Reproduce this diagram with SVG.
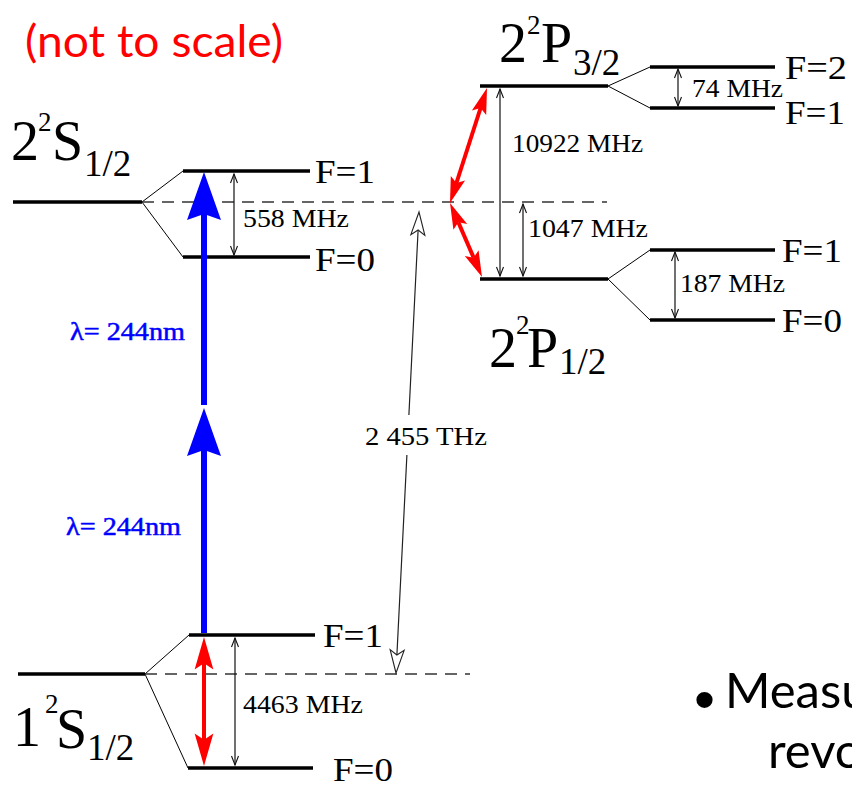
<svg xmlns="http://www.w3.org/2000/svg" width="852" height="785" viewBox="0 0 852 785">
<style>
.lvl{stroke:#000;stroke-width:3.5;fill:none}
.fan{stroke:#000;stroke-width:1;fill:none}
.dash{stroke:#333;stroke-width:1.3;stroke-dasharray:12 8;fill:none}
.thin{stroke:#111;stroke-width:1.2;fill:none;marker-start:url(#vee);marker-end:url(#vee)}
.serif{font-family:"Liberation Serif","Times New Roman",serif;fill:#000}
.F{font-size:34px}
.mhz{font-size:25px}
.big{font-size:56px}
.sup{font-size:27px}
.sub{font-size:37px}
.lam{font-family:"Liberation Serif","Times New Roman",serif;font-size:26px;fill:#0000ff;stroke:#0000ff;stroke-width:0.5}
.sans{font-family:Lato,"Open Sans","Liberation Sans",sans-serif}
.red{stroke:#ff0000;stroke-width:4;fill:none}
.blue{stroke:#0000ff;stroke-width:6;fill:none}
.thz{stroke:#222;stroke-width:1.2;fill:none}
</style>
<defs>
<marker id="vee" markerUnits="userSpaceOnUse" orient="auto-start-reverse" refX="0" refY="0" markerWidth="12" markerHeight="10" viewBox="-11 -5 12 10" overflow="visible">
<path d="M-9,-3.5 L0,0 L-9,3.5" fill="none" stroke="#111" stroke-width="1.1"/>
</marker>
<path id="redHead" d="M0,0 L-26,-7.5 L-21,0 L-26,7.5 Z" fill="#ff0000"/>
<path id="blueHead" d="M0,0 L-48,-17 L-42,0 L-48,17 Z" fill="#0000ff"/>
<path id="openHead" d="M0,0 L-23,-7 L-18,0 L-23,7 Z" fill="#fff" stroke="#222" stroke-width="1.1"/>
</defs>
<rect width="852" height="785" fill="#fff"/>

<text class="sans" x="25" y="57" font-size="45" fill="#ff0000" textLength="258" lengthAdjust="spacingAndGlyphs">(not to scale)</text>

<g id="level-2S">
<line class="lvl" x1="13" y1="202" x2="142" y2="202"/>
<path class="fan" d="M142,202 L183,171 M142,202 L183,257"/>
<line class="lvl" x1="183" y1="171" x2="310" y2="171"/>
<line class="lvl" x1="183" y1="257" x2="310" y2="257"/>
<text class="serif"><tspan class="big" x="11" y="160">2</tspan><tspan class="sup" x="38" y="131">2</tspan><tspan class="big" x="52" y="160">S</tspan><tspan class="sub" x="84" y="176">1/2</tspan></text>
<text class="serif F" x="315" y="183" textLength="60" lengthAdjust="spacingAndGlyphs">F=1</text>
<text class="serif F" x="315" y="271" textLength="60" lengthAdjust="spacingAndGlyphs">F=0</text>
</g>

<g id="level-1S">
<line class="lvl" x1="18" y1="674" x2="145" y2="674"/>
<path class="fan" d="M145,674 L189,635 M145,674 L188,768"/>
<line class="lvl" x1="189" y1="635" x2="315" y2="635"/>
<line class="lvl" x1="188" y1="768" x2="313" y2="768"/>
<text class="serif"><tspan class="big" x="13" y="746">1</tspan><tspan class="sup" x="45" y="713">2</tspan><tspan class="big" x="56" y="748">S</tspan><tspan class="sub" x="87" y="760">1/2</tspan></text>
<text class="serif F" x="323" y="647" textLength="60" lengthAdjust="spacingAndGlyphs">F=1</text>
<text class="serif F" x="333" y="781" textLength="60" lengthAdjust="spacingAndGlyphs">F=0</text>
</g>

<g id="level-2P32">
<line class="lvl" x1="480" y1="86" x2="608" y2="86"/>
<path class="fan" d="M608,86 L650,67 M608,86 L650,108"/>
<line class="lvl" x1="650" y1="67" x2="775" y2="67"/>
<line class="lvl" x1="650" y1="108" x2="775" y2="108"/>
<text class="serif"><tspan class="big" x="499" y="62">2</tspan><tspan class="sup" x="527" y="34">2</tspan><tspan class="big" x="541" y="62">P</tspan><tspan class="sub" x="573" y="75">3/2</tspan></text>
<text class="serif F" x="785" y="79" textLength="62" lengthAdjust="spacingAndGlyphs">F=2</text>
<text class="serif F" x="785" y="124" textLength="60" lengthAdjust="spacingAndGlyphs">F=1</text>
</g>

<g id="level-2P12">
<line class="lvl" x1="480" y1="279" x2="608" y2="279"/>
<path class="fan" d="M608,279 L650,250 M608,279 L650,320"/>
<line class="lvl" x1="650" y1="250" x2="775" y2="250"/>
<line class="lvl" x1="650" y1="320" x2="775" y2="320"/>
<text class="serif"><tspan class="big" x="489" y="367">2</tspan><tspan class="sup" x="516" y="334">2</tspan><tspan class="big" x="527" y="367">P</tspan><tspan class="sub" x="559" y="374">1/2</tspan></text>
<text class="serif F" x="782" y="262" textLength="60" lengthAdjust="spacingAndGlyphs">F=1</text>
<text class="serif F" x="782" y="332" textLength="60" lengthAdjust="spacingAndGlyphs">F=0</text>
</g>

<g id="connectors">
<line class="dash" x1="142" y1="202" x2="607" y2="202"/>
<line class="dash" x1="145" y1="674" x2="470" y2="674"/>

<line class="thin" x1="234" y1="174" x2="234" y2="255"/>
<line class="thin" x1="235" y1="638" x2="235" y2="765"/>
<line class="thin" x1="500" y1="89" x2="500" y2="276"/>
<line class="thin" x1="523" y1="204" x2="523" y2="276"/>
<line class="thin" x1="678" y1="69" x2="678" y2="106"/>
<line class="thin" x1="675" y1="252" x2="675" y2="318"/>

<line class="blue" x1="204" y1="633" x2="204" y2="450"/>
<use href="#blueHead" transform="translate(204,408) rotate(-90)"/>
<line class="blue" x1="204" y1="405" x2="204" y2="214"/>
<use href="#blueHead" transform="translate(204,172) rotate(-90)"/>

<line class="red" x1="204" y1="662" x2="204" y2="741"/>
<use href="#redHead" transform="translate(204,637) rotate(-90) scale(1.25)"/>
<use href="#redHead" transform="translate(204,766) rotate(90) scale(1.25)"/>

<line class="red" x1="456.43" y1="183.01" x2="480.57" y2="107.99"/>
<use href="#redHead" transform="translate(487,88) rotate(-72.17)"/>
<use href="#redHead" transform="translate(450,203) rotate(107.83)"/>
<line class="red" x1="458.33" y1="222.28" x2="473.67" y2="257.72"/>
<use href="#redHead" transform="translate(482,277) rotate(66.62)"/>
<use href="#redHead" transform="translate(450,203) rotate(-113.38)"/>

<path class="thz" d="M418.1,230 L408.9,415 M406.9,455 L396.9,655"/>
<use href="#openHead" transform="translate(419,212) rotate(-87.15)"/>
<use href="#openHead" transform="translate(396,673) rotate(92.85)"/>
</g>

<g id="labels">
<text class="serif mhz" x="243" y="227" textLength="106" lengthAdjust="spacingAndGlyphs">558 MHz</text>
<text class="serif mhz" x="243" y="713" textLength="120" lengthAdjust="spacingAndGlyphs">4463 MHz</text>
<text class="serif mhz" x="512" y="152" textLength="131" lengthAdjust="spacingAndGlyphs">10922 MHz</text>
<text class="serif mhz" x="528" y="237" textLength="120" lengthAdjust="spacingAndGlyphs">1047 MHz</text>
<text class="serif mhz" x="692" y="97" textLength="91" lengthAdjust="spacingAndGlyphs">74 MHz</text>
<text class="serif mhz" x="680" y="292" textLength="105" lengthAdjust="spacingAndGlyphs">187 MHz</text>
<text class="serif mhz" x="365" y="445" textLength="122" lengthAdjust="spacingAndGlyphs">2 455 THz</text>
<text class="lam" x="70" y="340" textLength="115" lengthAdjust="spacingAndGlyphs">λ= 244nm</text>
<text class="lam" x="66" y="535" textLength="115" lengthAdjust="spacingAndGlyphs">λ= 244nm</text>
</g>

<g id="bullet-text">
<text class="sans" font-size="49" fill="#000"><tspan x="694" y="720" font-family="Liberation Sans, sans-serif" font-size="60">•</tspan><tspan x="725" y="708">Measu</tspan><tspan x="768" y="768">revo</tspan></text>
</g>
</svg>
